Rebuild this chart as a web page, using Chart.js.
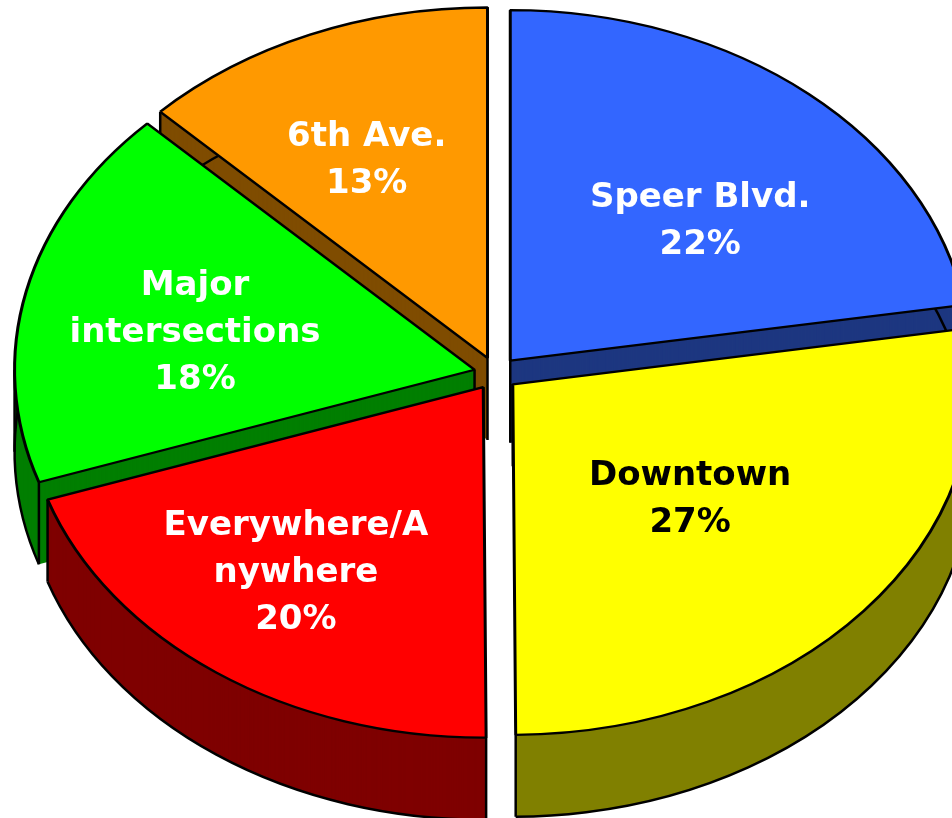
<!DOCTYPE html>
<html>
<head>
<meta charset="utf-8">
<title>Where to focus</title>
<style>
  html, body { margin: 0; padding: 0; background: #fff; overflow: hidden; }
  #wrap { position: absolute; left: 0; top: 0; }
</style>
</head>
<body>
<div id="wrap"><canvas id="pie" width="1000" height="900"></canvas></div>
<script src="https://cdn.jsdelivr.net/npm/chart.js@4/dist/chart.umd.min.js"></script>
<script>
/* ─── Data ───────────────────────────────────────────────────────────────── */
const categories  = [['Speer Blvd.'], ['Downtown'], ['Everywhere/A', 'nywhere'], ['Major', 'intersections'], ['6th Ave.']];
const shares      = [22.45, 27.45, 19.9, 17.6, 12.6];
const topColors   = ['#3366FF', '#FFFF00', '#FF0000', '#00FF00', '#FF9900'];
const sideColors  = ['#1D3780', '#808000', '#7F0000', '#007F00', '#7F4C00'];
const labelColors = ['#FFFFFF', '#000000', '#FFFFFF', '#FFFFFF', '#FFFFFF'];

/* ─── 3D look ────────────────────────────────────────────────────────────── */
const SQUASH  = 0.762;   // vertical tilt of the pie
const DEPTH   = 82;      // thickness in px
const EXPLODE = 22;      // slice pull-out in px
const LINE    = 47;      // label line height
// where each label sits: fraction along the slice sweep, fraction of the radius
const labelAngle  = [0.564, 0.496, 0.535, 0.461, 0.455];
const labelRadius = [0.578, 0.502, 0.662, 0.618, 0.628];

const midAngle = arc => (arc.startAngle + arc.endAngle) / 2;

function sliceFrame(ctx, arc, k) {
  const m = midAngle(arc);
  ctx.translate(arc.x + Math.cos(m) * EXPLODE, arc.y + Math.sin(m) * EXPLODE * SQUASH + k);
  ctx.scale(1, SQUASH);
  ctx.translate(-arc.x, -arc.y);
}

function screenPoint(arc, t, r) {
  const m = midAngle(arc);
  return [
    arc.x + Math.cos(m) * EXPLODE + Math.cos(t) * r,
    arc.y + (Math.sin(m) * EXPLODE + Math.sin(t) * r) * SQUASH
  ];
}

const pie3d = {
  id: 'pie3d',
  beforeDatasetsDraw(chart) {
    const ctx  = chart.ctx;
    const arcs = chart.getDatasetMeta(0).data;
    const order = arcs.map((a, i) => i)
      .sort((a, b) => Math.sin(midAngle(arcs[a])) - Math.sin(midAngle(arcs[b])));

    /* side walls, back to front */
    order.forEach(i => {
      const arc = arcs[i];
      const { x, y, startAngle: s, endAngle: e, outerRadius: r } = arc;
      ctx.fillStyle = sideColors[i];
      for (let k = DEPTH; k >= 1; k--) {
        ctx.save();
        sliceFrame(ctx, arc, k);
        ctx.beginPath();
        ctx.moveTo(x, y);
        ctx.arc(x, y, r, s, e);
        ctx.closePath();
        ctx.fill();
        ctx.restore();
      }
      ctx.save();
      ctx.strokeStyle = '#000';
      ctx.lineWidth = 2.5;
      ctx.save();
      sliceFrame(ctx, arc, DEPTH);
      ctx.beginPath();
      ctx.arc(x, y, r, s, e);
      ctx.restore();
      ctx.stroke();

      /* vertical edges at corners and silhouette */
      const ts = [s, e];
      [0, Math.PI, 2 * Math.PI].forEach(t => { if (t > s && t < e) ts.push(t); });
      const pts = ts.map(t => screenPoint(arc, t, r));
      pts.push(screenPoint(arc, 0, 0));
      ctx.beginPath();
      pts.forEach(([px, py]) => { ctx.moveTo(px, py); ctx.lineTo(px, py + DEPTH); });
      ctx.stroke();
      ctx.restore();
    });

    /* top faces */
    order.forEach(i => {
      ctx.save();
      sliceFrame(ctx, arcs[i], 0);
      arcs[i].draw(ctx);
      ctx.restore();
    });
    return false;
  },
  afterDraw(chart) {
    const ctx   = chart.ctx;
    const arcs  = chart.getDatasetMeta(0).data;
    const total = shares.reduce((a, b) => a + b, 0);
    ctx.save();
    ctx.font = 'bold 34px "DejaVu Sans"';
    ctx.textAlign = 'center';
    ctx.textBaseline = 'middle';
    arcs.forEach((arc, i) => {
      const t  = arc.startAngle + labelAngle[i] * (arc.endAngle - arc.startAngle);
      const [lx, ly] = screenPoint(arc, t, labelRadius[i] * arc.outerRadius);
      const lines = [...chart.data.labels[i], `${Math.round(shares[i] / total * 100)}%`];
      const top = ly + 3 - (lines.length - 1) * LINE / 2;
      ctx.fillStyle = labelColors[i];
      lines.forEach((txt, j) => ctx.fillText(txt, lx, top + j * LINE));
    });
    ctx.restore();
  }
};

/* ─── Chart ──────────────────────────────────────────────────────────────── */
new Chart(document.getElementById('pie'), {
  type: 'pie',
  data: {
    labels: categories,
    datasets: [{
      data: shares,
      backgroundColor: topColors,
      borderColor: '#000000',
      borderWidth: 3
    }]
  },
  options: {
    responsive: false,
    animation: false,
    events: [],
    radius: 460,
    layout: { padding: { left: 0, top: 0, right: 8, bottom: 153 } },
    plugins: {
      legend: { display: false },
      tooltip: { enabled: false }
    }
  },
  plugins: [pie3d]
});
</script>
</body>
</html>
